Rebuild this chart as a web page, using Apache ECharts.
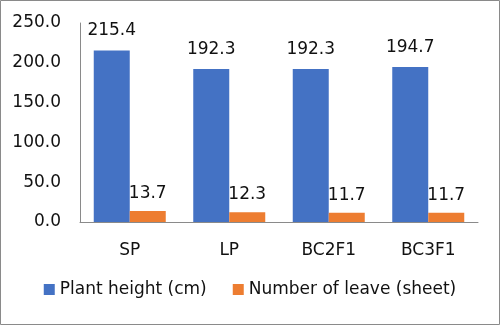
<!DOCTYPE html>
<html><head><meta charset="utf-8">
<script src="https://cdn.jsdelivr.net/npm/echarts@6/dist/echarts.min.js"></script>
<style>html,body{margin:0;padding:0;background:#fff}#c{width:500px;height:325px}</style>
</head><body><div id="c"></div>
<script>
const categories = ['SP', 'LP', 'BC2F1', 'BC3F1'];
const plantHeight = [215.4, 192.3, 192.3, 194.7];
const leaves = [13.7, 12.3, 11.7, 11.7];
const seriesNames = ['Plant height (cm)', 'Number of leave (sheet)'];
const yTicks = { min: 0, max: 250, interval: 50 };

const font = 'DejaVu Sans';
const fs = 17;
const chart = echarts.init(document.getElementById('c'), null, { renderer: 'canvas' });
const lbl = (d) => ({
  show: true, position: 'top', distance: d, color: '#111',
  fontFamily: font, fontSize: fs,
  formatter: p => p.value.toFixed(1)
});
chart.setOption({
  animation: false,
  textStyle: { fontFamily: font },
  graphic: [{ type: 'rect', shape: { x: 0.5, y: 0.5, width: 499, height: 324 },
    style: { fill: 'none', stroke: '#8a8a8a', lineWidth: 1 }, z: 100 }],
  grid: { left: 80, right: 22, top: 23, bottom: 103 },
  legend: {
    bottom: 22, left: 'center', itemWidth: 11, itemHeight: 11, itemGap: 26,
    icon: 'rect', textStyle: { fontFamily: font, fontSize: fs, color: '#111', padding: [0, 0, 0, 0] },
    data: seriesNames
  },
  xAxis: {
    type: 'category', data: categories,
    axisLine: { lineStyle: { color: '#8a8a8a' } }, axisTick: { show: false },
    axisLabel: { color: '#111', fontFamily: font, fontSize: fs, margin: 20 }
  },
  yAxis: {
    type: 'value', min: yTicks.min, max: yTicks.max, interval: yTicks.interval,
    splitLine: { show: false },
    axisLine: { show: true, lineStyle: { color: '#8a8a8a' } }, axisTick: { show: false },
    axisLabel: { color: '#111', fontFamily: font, fontSize: fs, margin: 19, formatter: v => v.toFixed(1) }
  },
  series: [
    { name: seriesNames[0], type: 'bar', data: plantHeight, barWidth: 36, barGap: '0%',
      itemStyle: { color: '#4472C4' }, label: lbl(11) },
    { name: seriesNames[1], type: 'bar', data: leaves, barWidth: 36, barGap: '0%',
      itemStyle: { color: '#ED7D31' }, label: lbl(9) }
  ]
});
</script></body></html>
